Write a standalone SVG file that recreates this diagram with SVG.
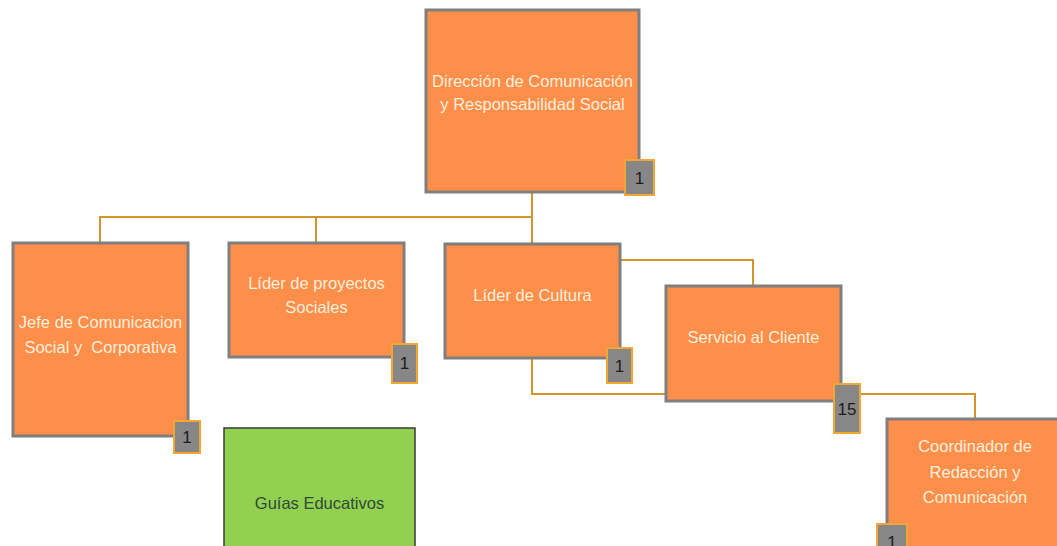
<svg xmlns="http://www.w3.org/2000/svg" width="1057" height="546" viewBox="0 0 1057 546">
<style>
.box{fill:#fe8f4a;stroke:#7f7f7f;stroke-width:3}
.lbl{font-family:"Liberation Sans",Arial,sans-serif;font-size:16.5px;fill:#fdeedd;text-anchor:middle}
.badge{fill:#878787;stroke:#f2a735;stroke-width:2}
.num{font-family:"Liberation Sans",Arial,sans-serif;font-size:17px;fill:#1c1c1c;text-anchor:middle}
.conn{fill:none;stroke:#d3952b;stroke-width:2}
.green{fill:#92d050;stroke:#3a3a3a;stroke-width:1.5}
.glbl{font-family:"Liberation Sans",Arial,sans-serif;font-size:16.5px;fill:#2f4a3a;text-anchor:middle}
</style>
<rect width="1057" height="546" fill="#ffffff"/>
<g id="connectors">
<path class="conn" d="M532 192 V243"/>
<path class="conn" d="M532 217 H100 V243"/>
<path class="conn" d="M316 217 V243"/>
<path class="conn" d="M620 260 H753 V286"/>
<path class="conn" d="M532 358 V394 H666"/>
<path class="conn" d="M841 394 H975 V419"/>
</g>
<g id="node-direccion">
<rect class="box" x="426" y="10" width="213" height="182"/>
<text class="lbl" x="532.5" y="87">Dirección de Comunicación</text>
<text class="lbl" x="532.5" y="110">y Responsabilidad Social</text>
<rect class="badge" x="625" y="160" width="29" height="35"/>
<text class="num" x="639.5" y="184">1</text>
</g>
<g id="node-jefe">
<rect class="box" x="13" y="243" width="175" height="193"/>
<text class="lbl" x="100.5" y="328">Jefe de Comunicacion</text>
<text class="lbl" x="100.5" y="353" xml:space="preserve">Social y  Corporativa</text>
<rect class="badge" x="174" y="421" width="26" height="32"/>
<text class="num" x="187" y="443">1</text>
</g>
<g id="node-proyectos">
<rect class="box" x="229" y="243" width="175" height="114"/>
<text class="lbl" x="316.5" y="289">Líder de proyectos</text>
<text class="lbl" x="316.5" y="313">Sociales</text>
<rect class="badge" x="392" y="344" width="25" height="39"/>
<text class="num" x="404.5" y="369">1</text>
</g>
<g id="node-cultura">
<rect class="box" x="445" y="244" width="175" height="114"/>
<text class="lbl" x="532.5" y="301">Líder de Cultura</text>
<rect class="badge" x="607" y="348" width="25" height="35"/>
<text class="num" x="619.5" y="372">1</text>
</g>
<g id="node-servicio">
<rect class="box" x="666" y="286" width="175" height="115"/>
<text class="lbl" x="753.5" y="343">Servicio al Cliente</text>
<rect class="badge" x="834" y="384" width="26" height="49"/>
<text class="num" x="847" y="415">15</text>
</g>
<g id="node-coordinador">
<rect class="box" x="887" y="419" width="176" height="140"/>
<text class="lbl" x="975" y="452">Coordinador de</text>
<text class="lbl" x="975" y="478">Redacción y</text>
<text class="lbl" x="975" y="503">Comunicación</text>
<rect class="badge" x="877" y="524" width="30" height="35"/>
<text class="num" x="892" y="548">1</text>
</g>
<g id="node-guias">
<rect class="green" x="224" y="428" width="191" height="130"/>
<text class="glbl" x="319.5" y="509">Guías Educativos</text>
</g>
</svg>
